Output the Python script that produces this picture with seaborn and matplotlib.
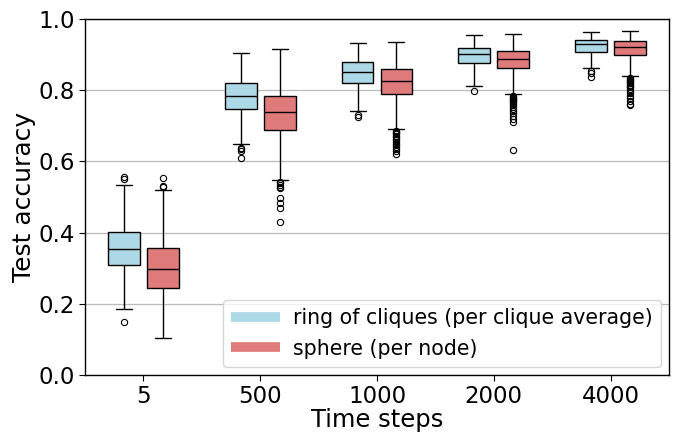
import numpy as np
import pandas as pd
import seaborn as sns
import matplotlib
matplotlib.use("Agg")
import matplotlib.pyplot as plt
from matplotlib.lines import Line2D

# ---- data (box statistics per time step) ----
time_steps = ["5", "500", "1000", "2000", "4000"]
series = ["ring of cliques (per clique average)", "sphere (per node)"]

ring_whislo = [0.186, 0.648, 0.741, 0.813, 0.861]
ring_q1     = [0.310, 0.748, 0.821, 0.876, 0.907]
ring_med    = [0.353, 0.785, 0.850, 0.903, 0.929]
ring_q3     = [0.401, 0.819, 0.878, 0.919, 0.940]
ring_whishi = [0.533, 0.905, 0.932, 0.955, 0.963]
ring_fliers = [
    [0.148, 0.550, 0.557],
    [0.638, 0.634, 0.630, 0.610],
    [0.730, 0.724],
    [0.799],
    [0.855, 0.847, 0.836],
]

sphere_whislo = [0.103, 0.548, 0.691, 0.790, 0.840]
sphere_q1     = [0.244, 0.689, 0.790, 0.862, 0.898]
sphere_med    = [0.299, 0.740, 0.827, 0.889, 0.922]
sphere_q3     = [0.356, 0.785, 0.859, 0.911, 0.939]
sphere_whishi = [0.520, 0.916, 0.936, 0.958, 0.967]
sphere_fliers = [
    [0.527, 0.530, 0.553],
    [0.543, 0.538, 0.533, 0.528, 0.524, 0.497, 0.482, 0.470, 0.431],
    [0.685, 0.682, 0.679, 0.676, 0.672, 0.668, 0.664, 0.660, 0.655,
     0.650, 0.645, 0.640, 0.635, 0.628, 0.620],
    [0.785, 0.782, 0.779, 0.776, 0.773, 0.770, 0.766, 0.762, 0.758,
     0.753, 0.748, 0.742, 0.735, 0.728, 0.720, 0.712, 0.632],
    [0.835, 0.832, 0.829, 0.826, 0.823, 0.820, 0.816, 0.812, 0.808,
     0.803, 0.798, 0.792, 0.785, 0.778, 0.770, 0.762, 0.758],
]

colors = ["#add8e6", "#e07b7b"]


def sample_from_stats(wlo, q1, med, q3, whi, fliers, m=200):
    """Build a value list whose box statistics equal the given ones."""
    return [wlo] + [q1] * m + [med] * m + [q3] * m + [whi] + list(fliers)


rows = []
stats = [
    (ring_whislo, ring_q1, ring_med, ring_q3, ring_whishi, ring_fliers),
    (sphere_whislo, sphere_q1, sphere_med, sphere_q3, sphere_whishi, sphere_fliers),
]
for name, (wl, q1, md, q3, wh, fl) in zip(series, stats):
    for i, t in enumerate(time_steps):
        for v in sample_from_stats(wl[i], q1[i], md[i], q3[i], wh[i], fl[i]):
            rows.append((t, name, v))
df = pd.DataFrame(rows, columns=["Time steps", "series", "Test accuracy"])

sns.set_style("white")
plt.rcParams["font.family"] = ["DejaVu Sans"]
plt.rcParams["text.color"] = "black"
plt.rcParams["axes.labelcolor"] = "black"
plt.rcParams["xtick.color"] = "black"
plt.rcParams["ytick.color"] = "black"

fig = plt.figure(figsize=(6.77, 4.34), dpi=100)
ax = fig.add_axes([85 / 677, 1 - 375 / 434, (669 - 85) / 677, (375 - 19) / 434])

sns.boxplot(
    data=df, x="Time steps", y="Test accuracy", hue="series",
    order=time_steps, hue_order=series, palette=colors,
    width=0.667, gap=0.18, linewidth=1, linecolor="black",
    saturation=1, fliersize=4.5,
    flierprops=dict(marker="o", markerfacecolor="none", markeredgecolor="black",
                    markeredgewidth=0.8),
    ax=ax, legend=False,
)

ax.set_ylim(0, 1)
ax.set_yticks([0.0, 0.2, 0.4, 0.6, 0.8, 1.0])
ax.yaxis.grid(True, color="#bbbbbb", linewidth=0.9)
ax.set_axisbelow(True)
for s in ax.spines.values():
    s.set_visible(True)
    s.set_color("black")
    s.set_linewidth(1.0)
ax.tick_params(axis="both", which="major", labelsize=16.5, length=4, width=0.8,
               bottom=True, left=True, labelcolor="black")
ax.set_xlabel("Time steps", fontsize=17.5, labelpad=0)
ax.set_ylabel("Test accuracy", fontsize=18, labelpad=1.5)

handles = [Line2D([0], [0], color=c, linewidth=7, solid_capstyle="butt") for c in colors]
ax.legend(handles, series, loc="lower right", fontsize=14.8, handlelength=2.4,
          frameon=True, framealpha=0.8, borderaxespad=0.4, handletextpad=0.6,
          labelspacing=0.52)

fig.savefig("out.png", dpi=100)
